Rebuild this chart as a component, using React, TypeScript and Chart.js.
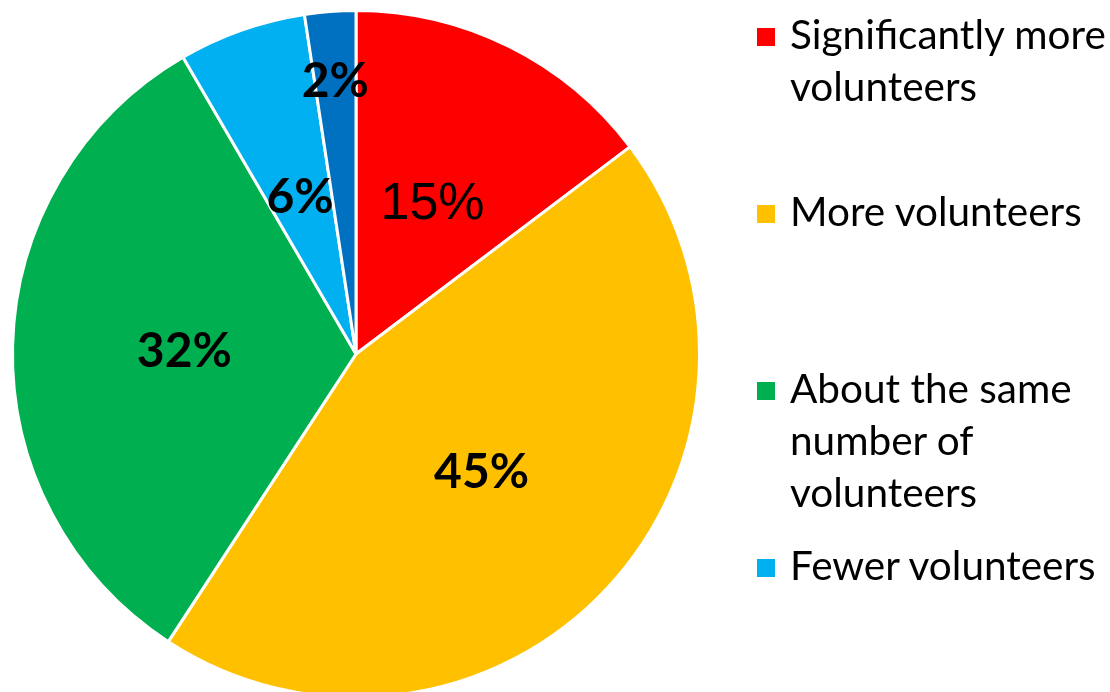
import React, { useEffect, useRef } from "react";
import { Chart, registerables } from "chart.js";

Chart.register(...registerables);

const categories = [
  "Significantly more volunteers",
  "More volunteers",
  "About the same number of volunteers",
  "Fewer volunteers",
  "Significantly fewer volunteers",
];
const legendLines = [
  ["Significantly more", "volunteers"],
  ["More volunteers"],
  ["About the same", "number of", "volunteers"],
  ["Fewer volunteers"],
  ["Significantly fewer", "volunteers"],
];
const values = [14.7, 44.5, 32.4, 6.0, 2.4];
const valueLabels = ["15%", "45%", "32%", "6%", "2%"];
const colors = ["#FF0000", "#FFC000", "#00B050", "#00B0F0", "#0070C0"];
const labelRadius = [0.5, 0.5, 0.5, 0.49, 0.8];
const labelBold = [false, true, true, true, true];

const labelPlugin = {
  id: "sliceLabels",
  afterDatasetsDraw(chart: any) {
    const ctx = chart.ctx;
    const meta = chart.getDatasetMeta(0);
    meta.data.forEach((arc: any, i: number) => {
      const p = arc.getProps(["x", "y", "startAngle", "endAngle", "outerRadius"], true);
      const mid = (p.startAngle + p.endAngle) / 2;
      const r = p.outerRadius * labelRadius[i];
      const x = p.x + Math.cos(mid) * r;
      const y = p.y + Math.sin(mid) * r;
      const size = labelBold[i] ? 48 : 52;
      ctx.save();
      ctx.font = labelBold[i]
        ? `bold ${size}px Lato, sans-serif`
        : `normal ${size}px "Liberation Sans", Arimo, Arial, sans-serif`;
      ctx.fillStyle = "#000000";
      ctx.textAlign = "center";
      ctx.textBaseline = "alphabetic";
      ctx.fillText(valueLabels[i], x, y + size * 0.36);
      ctx.restore();
    });
  },
};

export default function App() {
  const ref = useRef<HTMLCanvasElement | null>(null);
  useEffect(() => {
    if (!ref.current) return;
    const chart = new Chart(ref.current, {
      type: "pie",
      data: {
        labels: categories,
        datasets: [
          {
            data: values,
            backgroundColor: colors,
            borderColor: "#FFFFFF",
            borderWidth: 3,
          },
        ],
      },
      options: {
        animation: false,
        responsive: false,
        maintainAspectRatio: false,
        layout: { padding: { left: 11, right: 409, top: 9, bottom: 1 } },
        plugins: {
          legend: { display: false },
          tooltip: { enabled: false },
        },
      },
      plugins: [labelPlugin],
    });
    return () => chart.destroy();
  }, []);

  return (
    <div
      style={{
        position: "fixed",
        left: 0,
        top: 0,
        width: 1110,
        height: 692,
        overflow: "hidden",
        background: "#FFFFFF",
      }}
    >
      <canvas ref={ref} width={1110} height={700} style={{ position: "absolute", left: 0, top: 0 }} />
      {legendLines.map((lines, i) => (
        <div
          key={i}
          style={{
            position: "absolute",
            left: 757,
            top: 49 + i * 177 - 41.5,
            fontFamily: "Lato, sans-serif",
            fontSize: 40.5,
            lineHeight: "52px",
            color: "#000000",
            whiteSpace: "nowrap",
          }}
        >
          <span
            style={{
              position: "absolute",
              left: 0,
              top: 41.5 - 21,
              width: 18,
              height: 18,
              background: colors[i],
            }}
          />
          <div style={{ marginLeft: 33 }}>
            {lines.map((l, j) => (
              <div key={j}>{l}</div>
            ))}
          </div>
        </div>
      ))}
    </div>
  );
}
